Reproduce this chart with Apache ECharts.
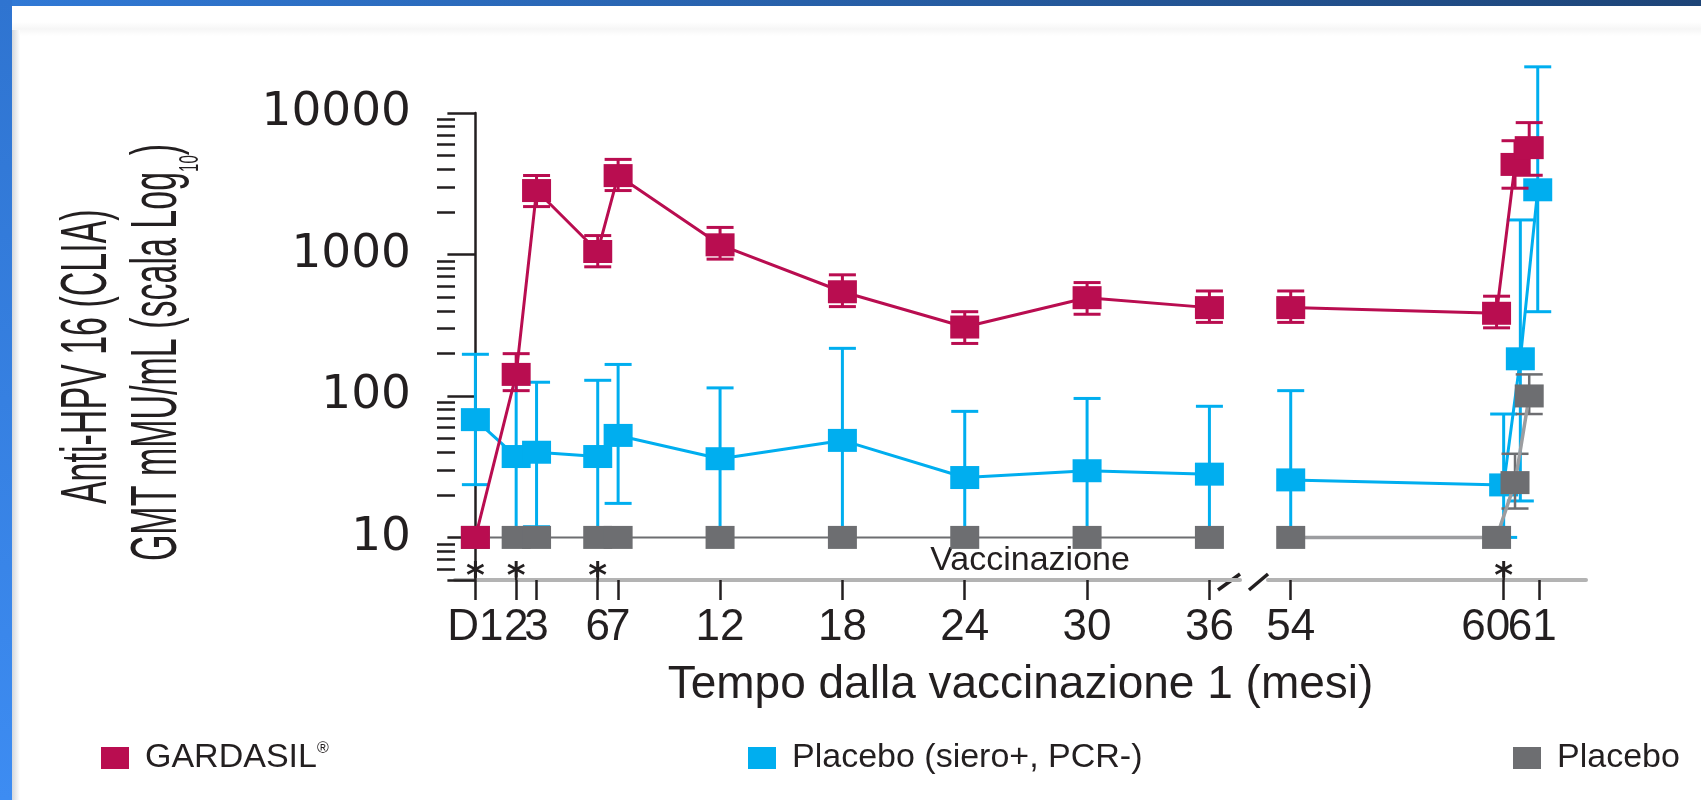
<!DOCTYPE html>
<html>
<head>
<meta charset="utf-8">
<script src="https://cdn.jsdelivr.net/npm/echarts@6/dist/echarts.min.js"></script>
<style>
  html, body { margin: 0; padding: 0; background: #ffffff; }
  #chart { width: 1701px; height: 800px; }
</style>
</head>
<body>
<div id="chart"></div>
<script>
// ---- Time axis (months since the first dose; D1 = 0) ----
const monthsEarly = [0, 2, 3, 6, 7, 12, 18, 24, 30, 36];
const earlyTickLabels = ['D1', '2', '3', '6', '7', '12', '18', '24', '30', '36'];
const monthsLate = [54, 60];
const lateTickLabels = ['54', '60'];
const monthsLast = [61];
const lastTickLabels = ['61'];

// ---- Y axis (GMT, log10 scale) ----
const yLabelValues = [10, 100, 1000, 10000];
const yMajorTicks = [5, 10, 100, 1000, 10000];

// ---- GARDASIL ----
const gardasilEarlyGmt  = [10, 142, 2830, 1050, 3610, 1170, 545, 307, 495, 421];
const gardasilEarlyLow  = [null, 109, 2180, 818, 2830, 927, 428, 235, 378, 331];
const gardasilEarlyHigh = [null, 199, 3615, 1360, 4700, 1553, 718, 394, 633, 552];
const gardasilLateMonths = [54, 59.8, 60.32, 60.72];
const gardasilLateGmt  = [421, 384, 4330, 5690];
const gardasilLateLow  = [331, 303, 2940, 3630];
const gardasilLateHigh = [552, 507, 6370, 8550];

// ---- Placebo (siero+, PCR-) ----
const placeboPosEarlyGmt  = [68, 37.3, 40, 37.3, 52.6, 36, 48.5, 26.5, 29.6, 28];
const placeboPosEarlyLow  = [23.6, 10, 11.9, 10, 17.4, 10, 11.3, 10, 10, 10];
const placeboPosEarlyHigh = [197, 131, 125, 129, 167, 114, 217, 77.8, 96, 84.5];
const placeboPosLateMonths = [54, 60, 60.47, 60.96];
const placeboPosLateGmt  = [25.5, 23.5, 183, 2865];
const placeboPosLateLow  = [10, 10, 18.1, 394];
const placeboPosLateHigh = [109, 74.5, 1754, 21200];

// ---- Placebo ----
const placeboEarlyGmt = [10, 10, 10, 10, 10, 10, 10, 10, 10, 10];
const placeboLateMonths = [54, 59.8, 60.32, 60.72];
const placeboLateGmt  = [10, 10, 24.4, 100];
const placeboLateLow  = [null, null, 16, 74.5];
const placeboLateHigh = [null, null, 39, 142];

// ---- Dose markers ----
const doseMonthsEarly = [0, 2, 6];
const doseMonthsLate = [60];
const doseMarkerLevel = 6;

const TEXT = '#231f20';
const RED = '#b90d50';
const BLUE = '#00aeef';
const GRAY = '#6d6e71';
const SANS = '"Liberation Sans", Arial, sans-serif';

// minor log ticks 6..9, 20..90, 200..900, 2000..9000
const yMinorTicks = [];
[1, 10, 100, 1000].forEach(d => {
  for (let k = 2; k <= 9; k++) {
    const v = k * d;
    if (v > 5 && v !== 10 && v !== 100 && v !== 1000) yMinorTicks.push(v);
  }
});

const pairs = (xs, ys) => xs.map((x, i) => [x, ys[i]]);

function lineSeries(name, xi, yi, xs, ys, color, width, lineColor, z) {
  return {
    type: 'line', name, xAxisIndex: xi, yAxisIndex: yi, z,
    data: pairs(xs, ys),
    symbol: 'rect', symbolSize: [29, 23], showSymbol: true,
    itemStyle: { color },
    lineStyle: { color: lineColor || color, width },
    emphasis: { disabled: true },
    animation: false, silent: true
  };
}

function errorSeries(name, xi, yi, xs, lo, hi, color, cap, width, z) {
  return {
    type: 'custom', name, xAxisIndex: xi, yAxisIndex: yi, z,
    itemStyle: { color },
    data: xs.map((m, i) => (lo[i] == null ? null : [m, lo[i], hi[i]])).filter(Boolean),
    encode: { x: 0, y: [1, 2] },
    clip: false, silent: true, animation: false,
    renderItem: (params, api) => {
      const m = api.value(0);
      const top = api.coord([m, api.value(2)]);
      const bot = api.coord([m, api.value(1)]);
      const st = { stroke: color, lineWidth: width };
      return {
        type: 'group',
        children: [
          { type: 'line', shape: { x1: top[0], y1: top[1], x2: bot[0], y2: bot[1] }, style: st },
          { type: 'line', shape: { x1: top[0] - cap / 2, y1: top[1], x2: top[0] + cap / 2, y2: top[1] }, style: st },
          { type: 'line', shape: { x1: bot[0] - cap / 2, y1: bot[1], x2: bot[0] + cap / 2, y2: bot[1] }, style: st }
        ]
      };
    }
  };
}

function doseSeries(xi, yi, months) {
  return {
    type: 'custom', name: 'Vaccinazione', xAxisIndex: xi, yAxisIndex: yi, z: 12,
    data: months.map(m => [m, doseMarkerLevel]),
    clip: false, silent: true, animation: false,
    renderItem: (params, api) => {
      const p = api.coord([api.value(0), api.value(1)]);
      const base = params.coordSys.y + params.coordSys.height;
      return {
        type: 'group',
        children: [
          { type: 'line', shape: { x1: p[0], y1: p[1], x2: p[0], y2: base }, style: { stroke: TEXT, lineWidth: 2.5 } },
          { type: 'text', x: p[0], y: p[1] + 9,
            style: { text: '*', fontSize: 36, fontWeight: 'bold', fontFamily: '"DejaVu Sans", sans-serif',
                     fill: TEXT, align: 'center', verticalAlign: 'middle' } }
        ]
      };
    }
  };
}

const logAxisBase = { type: 'log', logBase: 10, min: 5, max: 10000, splitLine: { show: false } };

const xLabelStyle = { fontSize: 44, lineHeight: 44, fontFamily: SANS, color: TEXT, margin: 26, hideOverlap: false };
const xTickStyle = { show: true, length: 20, lineStyle: { color: TEXT, width: 2.5 } };
const lateExtent = { min: 53.36, max: 62.32 };
// the two closely spaced late labels are nudged left so they sit side by side
const nudgeRich = {
  n60: { fontSize: 44, lineHeight: 44, fontFamily: SANS, color: TEXT, padding: [0, 36, 0, 0] },
  n61: { fontSize: 44, lineHeight: 44, fontFamily: SANS, color: TEXT, padding: [0, 14, 0, 0] }
};

const option = {
  animation: false,
  backgroundColor: '#ffffff',
  grid: [
    { left: 455, top: 113, width: 785, height: 467 },
    { left: 1268, top: 113, width: 318, height: 467 }
  ],
  xAxis: [
    {
      type: 'value', gridIndex: 0, min: -1, max: 37.5,
      splitLine: { show: false },
      axisLine: { show: true, onZero: false, lineStyle: { color: '#b3b3b3', width: 4 } },
      axisTick: Object.assign({ customValues: monthsEarly }, xTickStyle),
      axisLabel: Object.assign({
        customValues: monthsEarly,
        formatter: v => earlyTickLabels[monthsEarly.indexOf(v)]
      }, xLabelStyle)
    },
    Object.assign({
      type: 'value', gridIndex: 1, position: 'bottom',
      splitLine: { show: false },
      axisLine: { show: true, onZero: false, lineStyle: { color: '#b3b3b3', width: 4 } },
      axisTick: Object.assign({ customValues: monthsLate }, xTickStyle),
      axisLabel: Object.assign({
        customValues: monthsLate,
        formatter: v => {
          const t = lateTickLabels[monthsLate.indexOf(v)];
          return v === 60 ? '{n60|' + t + '}' : t;
        },
        rich: nudgeRich
      }, xLabelStyle)
    }, lateExtent),
    Object.assign({
      type: 'value', gridIndex: 1, position: 'bottom', offset: 0,
      splitLine: { show: false },
      axisLine: { show: false, onZero: false },
      axisTick: Object.assign({ customValues: monthsLast }, xTickStyle),
      axisLabel: Object.assign({
        customValues: monthsLast,
        formatter: v => '{n61|' + lastTickLabels[monthsLast.indexOf(v)] + '}',
        rich: nudgeRich
      }, xLabelStyle)
    }, lateExtent)
  ],
  yAxis: [
    Object.assign({}, logAxisBase, {
      gridIndex: 0, position: 'left', offset: 0,
      axisLine: { show: true, lineStyle: { color: TEXT, width: 2.5 } },
      axisTick: { show: true, customValues: yMajorTicks, length: 28, lineStyle: { color: TEXT, width: 2.5 } },
      axisLabel: {
        customValues: yLabelValues,
        formatter: v => String(v),
        fontSize: 47, fontFamily: '"DejaVu Sans", sans-serif', color: TEXT, margin: 44
      }
    }),
    Object.assign({}, logAxisBase, { gridIndex: 1, show: false }),
    Object.assign({}, logAxisBase, {
      gridIndex: 0, position: 'left', offset: 0,
      axisLine: { show: false },
      axisTick: { show: true, customValues: yMinorTicks, length: 18, lineStyle: { color: TEXT, width: 2.5 } },
      axisLabel: { show: false }
    })
  ],
  legend: [
    { data: ['GARDASIL®'], left: 101, top: 741 },
    { data: ['Placebo (siero+, PCR-)'], left: 748, top: 741 },
    { data: ['Placebo'], left: 1513, top: 741 }
  ].map(l => Object.assign(l, {
    padding: 0, icon: 'rect', itemWidth: 28, itemHeight: 22, selectedMode: false,
    formatter: n => n.replace('®', '{r|®}'),
    textStyle: {
      fontSize: 34, fontFamily: SANS, color: TEXT, padding: [0, 0, 0, 11],
      rich: { r: { fontSize: 16, fontFamily: SANS, color: TEXT, verticalAlign: 'top' } }
    }
  })),
  graphic: [
    // frame
    { type: 'rect', shape: { x: 0, y: 0, width: 1701, height: 6 }, silent: true,
      style: { fill: new echarts.graphic.LinearGradient(0, 0, 1, 0, [
        { offset: 0, color: '#3079d6' }, { offset: 1, color: '#1d4477' }]) } },
    { type: 'rect', shape: { x: 0, y: 22, width: 1701, height: 14 }, silent: true,
      style: { fill: new echarts.graphic.LinearGradient(0, 0, 0, 1, [
        { offset: 0, color: '#ffffff' }, { offset: 0.5, color: '#f6f6f6' }, { offset: 1, color: '#ffffff' }]) } },
    { type: 'rect', shape: { x: 12, y: 30, width: 8, height: 770 }, silent: true,
      style: { fill: new echarts.graphic.LinearGradient(0, 0, 1, 0, [
        { offset: 0, color: '#d3d7dc' }, { offset: 1, color: '#ffffff' }]) } },
    { type: 'rect', shape: { x: 0, y: 0, width: 12, height: 800 }, silent: true,
      style: { fill: new echarts.graphic.LinearGradient(0, 0, 0, 1, [
        { offset: 0, color: '#2f74d0' }, { offset: 1, color: '#3d8cf2' }]) } },
    // axis break marks
    { type: 'line', shape: { x1: 1218, y1: 590, x2: 1240, y2: 574 }, silent: true, style: { stroke: TEXT, lineWidth: 3.5 } },
    { type: 'line', shape: { x1: 1249, y1: 590, x2: 1268, y2: 574 }, silent: true, style: { stroke: TEXT, lineWidth: 3.5 } },
    // y-axis title
    { type: 'text', x: 88.5, y: 356.7, rotation: Math.PI / 2, scaleY: 1.9, silent: true,
      style: { text: 'Anti-HPV 16 (CLIA)', fontSize: 34, fontFamily: SANS, fill: TEXT, align: 'center', verticalAlign: 'middle' } },
    { type: 'text', x: 158.3, y: 352.5, rotation: Math.PI / 2, scaleY: 1.9, silent: true,
      style: {
        text: '{a|GMT mMU/mL (scala Log}{s|10}{a|)}', fill: TEXT, align: 'center', verticalAlign: 'middle',
        rich: {
          a: { fontSize: 34, fontFamily: SANS, fill: TEXT, lineHeight: 48 },
          s: { fontSize: 15, fontFamily: SANS, fill: TEXT, lineHeight: 14, verticalAlign: 'bottom' }
        }
      } },
    // x-axis title
    { type: 'text', x: 1020.5, y: 685, silent: true,
      style: { text: 'Tempo dalla vaccinazione 1 (mesi)', fontSize: 46, fontFamily: SANS, fill: TEXT, align: 'center', verticalAlign: 'middle' } },
    // dose annotation
    { type: 'text', x: 1030, y: 561, silent: true,
      style: { text: 'Vaccinazione', fontSize: 34, fontFamily: SANS, fill: TEXT, align: 'center', verticalAlign: 'middle' } }
  ],
  series: [
    lineSeries('GARDASIL®', 0, 0, monthsEarly, gardasilEarlyGmt, RED, 3, null, 11),
    lineSeries('GARDASIL®', 1, 1, gardasilLateMonths, gardasilLateGmt, RED, 3, null, 11),
    lineSeries('Placebo (siero+, PCR-)', 0, 0, monthsEarly, placeboPosEarlyGmt, BLUE, 3, null, 5),
    lineSeries('Placebo (siero+, PCR-)', 1, 1, placeboPosLateMonths, placeboPosLateGmt, BLUE, 3, null, 5),
    lineSeries('Placebo', 0, 0, monthsEarly, placeboEarlyGmt, GRAY, 2, null, 8),
    lineSeries('Placebo', 1, 1, placeboLateMonths, placeboLateGmt, GRAY, 3.5, '#9c9da0', 8),
    errorSeries('GARDASIL®', 0, 0, monthsEarly, gardasilEarlyLow, gardasilEarlyHigh, RED, 27, 3, 10),
    errorSeries('GARDASIL®', 1, 1, gardasilLateMonths, gardasilLateLow, gardasilLateHigh, RED, 27, 3, 10),
    errorSeries('Placebo (siero+, PCR-)', 0, 0, monthsEarly, placeboPosEarlyLow, placeboPosEarlyHigh, BLUE, 27, 3, 4),
    errorSeries('Placebo (siero+, PCR-)', 1, 1, placeboPosLateMonths, placeboPosLateLow, placeboPosLateHigh, BLUE, 27, 3, 4),
    errorSeries('Placebo', 1, 1, placeboLateMonths, placeboLateLow, placeboLateHigh, GRAY, 27, 2.5, 7),
    doseSeries(0, 0, doseMonthsEarly),
    doseSeries(1, 1, doseMonthsLate)
  ]
};

const chart = echarts.init(document.getElementById('chart'), null, { renderer: 'canvas' });
chart.setOption(option);
</script>
</body>
</html>
